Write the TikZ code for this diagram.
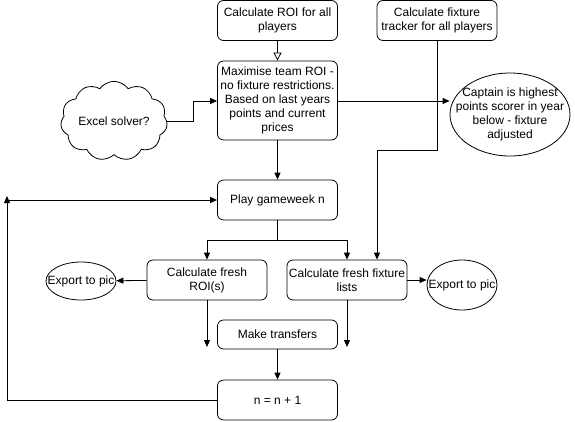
\documentclass[tikz,border=0pt]{standalone}
\usepackage{fontspec}
\setmainfont{Liberation Sans}
\usetikzlibrary{arrows.meta,shapes.geometric,shapes.symbols}
\begin{document}
\begin{tikzpicture}[x=1pt,y=-1pt,
  every node/.style={font=\fontsize{12}{14}\selectfont, align=center, inner sep=1pt},
  box/.style={draw, rounded corners=6pt, minimum width=120pt, line width=0.8pt},
  ell/.style={draw, ellipse, inner sep=0pt, line width=0.8pt},
  arr/.style={-{Triangle[length=7pt,width=6pt]}, line width=0.8pt},
  line/.style={line width=0.8pt}]
\useasboundingbox (0,0) rectangle (575,421);
\node[box, minimum height=40pt] (roi) at (277.5,20.5) {Calculate ROI for all\\players};
\node[box, minimum height=40pt] (fixt) at (437,20.5) {Calculate fixture\\tracker for all players};
\node[box, minimum height=79pt] (max) at (277.5,100.5) {Maximise team ROI -\\no fixture restrictions.\\Based on last years\\points and current\\prices};
\node[draw, cloud, cloud puffs=11, cloud puff arc=110, aspect=1.5, minimum width=102pt, minimum height=70pt, inner sep=0pt, line width=0.8pt] (cloud) at (114,121) {Excel solver?};
\node[ell, minimum width=120pt, minimum height=83pt] (capt) at (510,114.5) {};
\node at (capt) {Captain is highest\\points scorer in year\\below - fixture\\adjusted};
\node[box, minimum height=40pt] (play) at (277.5,200) {Play gameweek n};
\node[box, minimum height=40pt] (froi) at (207,280) {Calculate fresh\\ROI(s)};
\node[box, minimum height=40pt] (ffix) at (347,280) {Calculate fresh fixture\\lists};
\node[ell, minimum width=70pt, minimum height=38pt] (expl) at (81,281) {};
\node at (expl) {Export to pic};
\node[ell, minimum width=70pt, minimum height=50pt] (expr) at (462,285) {};
\node at (expr) {Export to pic};
\node[box, minimum height=29pt] (mt) at (277.5,334.5) {Make transfers};
\node[box, minimum height=40pt] (inc) at (277.5,400) {n = n + 1};
\coordinate (loop) at (7,200);
\coordinate (roiend) at (207,347);
\coordinate (fixend) at (347,347);
\coordinate (split) at (277.5,240.5);

\draw[-{Triangle[open,length=8pt,width=8pt]}, line width=0.8pt] (roi) -- (max);
\draw[arr] (cloud.east |- 0,121) -- (193,121) |- (max.west |- 0,101);
\draw[arr] (max.east |- 0,101) -- (capt.west |- 0,101);
\draw[arr] (max) -- (play);
\draw[arr] (fixt) -- (437,150) -| (377,0 |- ffix.north);
\draw[line] (play) -- (split);
\draw[arr] (split) -| (froi.north);
\draw[arr] (split) -| (ffix.north);
\draw[arr] (froi) -- (expl);
\draw[arr] (ffix.east) -- (ffix.east -| expr.west);
\draw[arr] (froi) -- (roiend);
\draw[arr] (ffix) -- (fixend);
\draw[arr] (mt) -- (inc);
\draw[arr] (inc.west) -| ([yshift=4pt]loop);
\draw[arr] (loop) -- (play.west);
\end{tikzpicture}
\end{document}
